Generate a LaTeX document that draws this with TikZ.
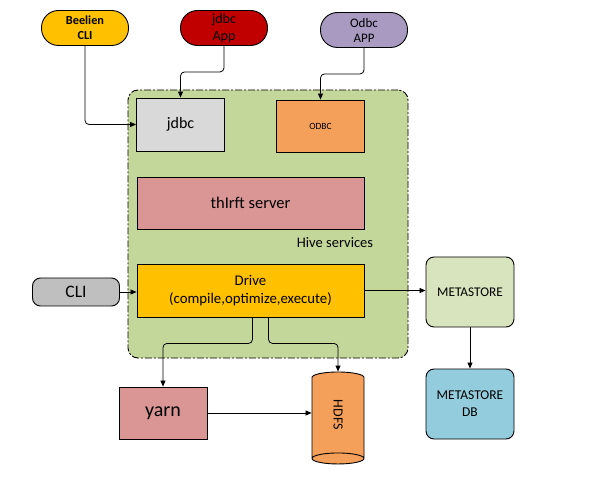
\documentclass[tikz,border=0pt]{standalone}
\usepackage{fontspec}
\setmainfont{Carlito}
\usetikzlibrary{arrows.meta,shapes.geometric}

\definecolor{beeliencol}{HTML}{FFC000}
\definecolor{jdbcappcol}{HTML}{C00000}
\definecolor{odbcappcol}{HTML}{A99AC2}
\definecolor{hivecol}{HTML}{C4D79B}
\definecolor{jdbccol}{HTML}{D9D9D9}
\definecolor{odbccol}{HTML}{F5A05A}
\definecolor{thriftcol}{HTML}{DA9694}
\definecolor{drivecol}{HTML}{FFC000}
\definecolor{clicol}{HTML}{BFBFBF}
\definecolor{metacol}{HTML}{D7E4BD}
\definecolor{metadbcol}{HTML}{93CDDD}

\newcommand{\fsize}[2]{\fontsize{#1}{#2}\selectfont}

\begin{document}
\begin{tikzpicture}[x=1pt,y=-1pt,line width=0.9pt,
  every node/.style={font=\fsize{13}{17}},
  pill/.style={draw,rounded corners=17pt,inner sep=0,minimum width=87pt,minimum height=35pt,align=center},
  box/.style={draw,inner sep=0,minimum width=88pt,minimum height=53pt,align=center},
  store/.style={draw,rounded corners=8pt,inner sep=0,minimum width=88pt,minimum height=70pt,align=center},
  link/.style={-{Triangle[length=6pt,width=5pt]},line width=0.8pt,rounded corners=4pt}]

\useasboundingbox (0,0) rectangle (589,486);

% clients

\node (beelien) at (85,28) [pill,fill=beeliencol,font=\bfseries\fsize{12.3}{15}] {Beelien\\CLI};
\node (jdbcapp) at (224,28) [pill,fill=jdbcappcol,font=\fsize{14}{17}] {jdbc\\App};
\node (odbcapp) at (364,30) [pill,fill=odbcappcol,font=\fsize{13}{15}] {Odbc\\APP};
\node (cli) at (76,292) [pill,fill=clicol,minimum height=28pt,rounded corners=8pt,font=\fsize{17.5}{20}] {CLI};

% hive services

\node (hive) at (268,224) [draw,fill=hivecol,rounded corners=10pt,minimum width=280pt,minimum height=268pt,
  dash pattern=on 7pt off 2pt on 2pt off 2pt] {};
\node (jdbc) at (180.5,124.5) [box,fill=jdbccol,font=\fsize{16}{19}] {jdbc};
\node (odbc) at (320.5,126) [box,fill=odbccol,minimum height=52pt,font=\fsize{9.5}{11}] {ODBC};
\node (thrift) at (250.5,203) [box,fill=thriftcol,minimum width=227pt,minimum height=52pt,font=\fsize{16.5}{19}] {thIrft server};
\node (hivelabel) at (335,243) [font=\fsize{14.5}{17}] {Hive services};
\node (drive) at (250.5,290.5) [box,fill=drivecol,minimum width=227pt,font=\fsize{14.8}{18}] {Drive\\(compile,optimize,execute)};

% storage

\node (meta) at (470,292) [store,fill=metacol,font=\fsize{13.3}{17}] {METASTORE};
\node (metadb) at (470,404) [store,fill=metadbcol,font=\fsize{13.5}{17}] {METASTORE\\DB};
\node (yarn) at (163,413) [box,fill=thriftcol,minimum width=88pt,minimum height=52pt,font=\fsize{20}{22}] {yarn};
\node (hdfs) at (338,415) [draw,fill=odbccol,cylinder,rotate=-90,aspect=1.2,inner sep=0,
  minimum width=52pt,minimum height=92pt,font=\fsize{14}{16}] {HDFS};

% links

\draw [link] (beelien.south) |- (jdbc.west);
\draw [link] (jdbcapp.south) -- ++(0,26) -| (jdbc.north);
\draw [link] (odbcapp.south) -- ++(0,26) -| (odbc.north);
\draw [link] (cli.east) -- (cli.east -| drive.west);
\draw [link] (drive.east) -- (drive.east -| meta.west);
\draw [link] (meta.south) -- (metadb.north);
\draw [link] ([xshift=2pt]drive.south) -- ++(0,26) -| (yarn.north);
\draw [link] ([xshift=18pt]drive.south) -- ++(0,26) -| (hdfs.west);
\draw [link] (yarn.east) -- (yarn.east -| hdfs.south);

\end{tikzpicture}
\end{document}
